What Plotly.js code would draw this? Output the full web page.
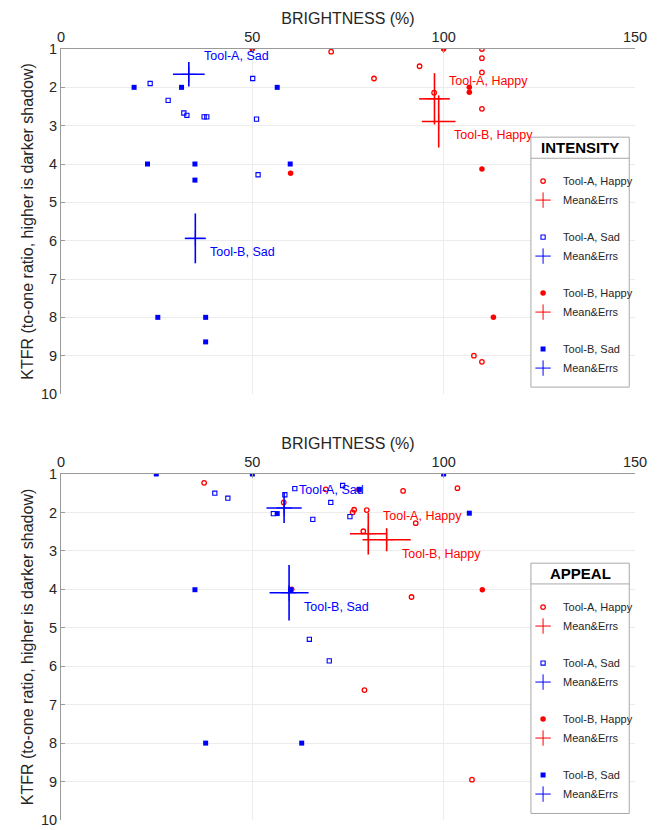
<!DOCTYPE html>
<html><head><meta charset="utf-8">
<script src="https://cdn.plot.ly/plotly-3.0.1.min.js"></script>
<style>html,body{margin:0;padding:0;background:#fff}</style>
</head><body>
<div id="chart" style="width:662px;height:830px"></div>
<script>
// ===== Panel 1: INTENSITY =====
const intAHappyX = [70.6, 110, 110, 93.7, 110, 81.8, 97.5, 110, 107.9, 110];
const intAHappyY = [1.07, 1.0, 1.24, 1.45, 1.61, 1.77, 2.14, 2.56, 9.0, 9.16];
const intASadX = [23.3, 50.1, 28.0, 32.1, 32.9, 37.4, 38.1, 51.1, 51.5];
const intASadY = [1.9, 1.77, 2.34, 2.67, 2.73, 2.77, 2.77, 2.83, 4.28];
const intBHappyX = [50, 100, 106.7, 106.7, 110, 60.0, 113];
const intBHappyY = [1.0, 1.0, 2.0, 2.13, 4.13, 4.24, 8.0];
const intBSadX = [19.1, 31.5, 56.5, 22.6, 35.0, 59.9, 35.0, 25.3, 37.8, 37.8];
const intBSadY = [2.0, 2.0, 2.0, 4.0, 4.0, 4.0, 4.42, 8.0, 8.0, 8.64];
// means & errors, order: A-Happy, A-Sad, B-Happy, B-Sad
const intMeanX = [97.6, 33.4, 98.7, 35.1];
const intMeanY = [2.30, 1.66, 2.89, 5.94];
const intErrX = [4.0, 4.15, 4.4, 2.75];
const intErrY = [0.67, 0.32, 0.68, 0.65];

// ===== Panel 2: APPEAL =====
const appAHappyX = [37.4, 58.2, 69.2, 77.9, 89.4, 103.6, 76.6, 76.2, 79.9, 92.7, 79.0, 91.6, 79.3, 107.4];
const appAHappyY = [1.23, 1.74, 1.4, 1.41, 1.44, 1.37, 1.93, 2.0, 1.94, 2.28, 2.49, 4.2, 6.62, 8.95];
const appASadX = [40.2, 43.6, 58.5, 61.1, 55.5, 73.6, 70.5, 75.5, 65.8, 64.9, 70.1];
const appASadY = [1.5, 1.63, 1.54, 1.38, 2.03, 1.3, 1.74, 2.11, 2.18, 5.3, 5.86];
const appBHappyX = [110.1, 60.3];
const appBHappyY = [4.01, 4.0];
const appBSadX = [24.9, 50, 100, 56.5, 106.7, 35.0, 60.0, 37.8, 62.9, 77.9];
const appBSadY = [1.0, 1.0, 1.0, 2.03, 2.02, 4.01, 4.01, 8.0, 8.0, 1.4];
const appMeanX = [80.3, 58.3, 85.1, 59.6];
const appMeanY = [2.555, 1.885, 2.71, 4.09];
const appErrX = [4.8, 4.6, 6.3, 5.1];
const appErrY = [0.54, 0.39, 0.30, 0.72];

const groupNames = ['Tool-A, Happy', 'Tool-A, Sad', 'Tool-B, Happy', 'Tool-B, Sad'];
const meanName = 'Mean&Errs';
const xTicks = [0, 50, 100, 150];
const yTicks = [1, 2, 3, 4, 5, 6, 7, 8, 9, 10];
const xTitle = 'BRIGHTNESS (%)';
const yTitle = 'KTFR (to-one ratio, higher is darker shadow)';
const legendTitles = ['INTENSITY', 'APPEAL'];

const RED = '#ff0000', BLUE = '#0000ff';
const FONT = 'Liberation Sans, Arial, Helvetica, sans-serif';
const TXT = '#262626';
const colors = [RED, BLUE, RED, BLUE];
const markerStyles = [
  {symbol: 'circle-open', size: 4.5, line: {width: 1.3}},
  {symbol: 'square-open', size: 4.2, line: {width: 1.1}},
  {symbol: 'circle', size: 5.5, line: {width: 0}},
  {symbol: 'square', size: 5, line: {width: 0}}
];

function buildPanel(sets, meanX, meanY, errX, errY, xa, ya, legendId, prefix) {
  const traces = [];
  sets.forEach((s, i) => {
    const ms = markerStyles[i];
    traces.push({
      type: 'scatter', mode: 'markers', x: s[0], y: s[1], xaxis: xa, yaxis: ya,
      name: groupNames[i], legend: legendId, legendgroup: prefix + i,
      marker: {symbol: ms.symbol, size: ms.size, color: colors[i], line: {color: colors[i], width: ms.line.width}},
      hoverinfo: 'x+y'
    });
    traces.push({
      type: 'scatter', mode: 'markers', x: [meanX[i]], y: [meanY[i]], xaxis: xa, yaxis: ya,
      name: meanName, legend: legendId, legendgroup: prefix + i,
      marker: {symbol: 'cross-thin-open', size: 11, color: colors[i], line: {color: colors[i], width: 1}},
      error_x: {type: 'data', array: [errX[i]], visible: true, width: 0, thickness: 1.6, color: colors[i]},
      error_y: {type: 'data', array: [errY[i]], visible: true, width: 0, thickness: 1.6, color: colors[i]}
    });
  });
  return traces;
}

const traces = [].concat(
  buildPanel([[intAHappyX, intAHappyY], [intASadX, intASadY], [intBHappyX, intBHappyY], [intBSadX, intBSadY]],
    intMeanX, intMeanY, intErrX, intErrY, 'x', 'y', 'legend', 'i'),
  buildPanel([[appAHappyX, appAHappyY], [appASadX, appASadY], [appBHappyX, appBHappyY], [appBSadX, appBSadY]],
    appMeanX, appMeanY, appErrX, appErrY, 'x2', 'y2', 'legend2', 'a')
);

function labelAnns(meanX, meanY, xref, yref) {
  const offX = [3.4, 3.4, 3.4, 3.4];
  const offY = [-0.47, -0.47, 0.36, 0.36];
  return meanX.map((mx, i) => ({
    x: mx + offX[i], y: meanY[i] + offY[i], xref: xref, yref: yref,
    text: groupNames[i], showarrow: false, xanchor: 'left', yanchor: 'middle',
    font: {family: FONT, size: 12.5, color: colors[i]}
  }));
}

function xAxis(anchor) {
  return {
    anchor: anchor, side: 'top', range: [0, 150], tickvals: xTicks, ticktext: xTicks.map(String),
    showline: true, linecolor: '#9a9a9a', linewidth: 1, ticks: 'inside', ticklen: 4, tickcolor: '#9a9a9a',
    showgrid: true, gridcolor: '#ececec', gridwidth: 1, zeroline: false,
    tickfont: {family: FONT, size: 14.5, color: TXT},
    title: {text: xTitle, font: {family: FONT, size: 16, color: TXT}, standoff: 0}
  };
}
function yAxis(domain, anchor) {
  return {
    domain: domain, anchor: anchor, range: [10, 1], tickvals: yTicks, ticktext: yTicks.map(String),
    showline: true, linecolor: '#9a9a9a', linewidth: 1, ticks: 'inside', ticklen: 4, tickcolor: '#9a9a9a',
    showgrid: true, gridcolor: '#ececec', gridwidth: 1, zeroline: false,
    tickfont: {family: FONT, size: 14.5, color: TXT},
    title: {text: yTitle, font: {family: FONT, size: 16, color: TXT}, standoff: 3}
  };
}

// legend box geometry (data coordinates of each panel)
const boxX = [122.8, 148.5];
const boxY = [[3.30, 9.82, 3.85], [3.32, 9.83, 3.86]];
function boxShapes(xref, yref, by) {
  return [
    {type: 'rect', xref: xref, yref: yref, x0: boxX[0], x1: boxX[1], y0: by[0], y1: by[1],
     line: {color: '#a8a8a8', width: 1}, fillcolor: '#ffffff', layer: 'above'},
    {type: 'line', xref: xref, yref: yref, x0: boxX[0], x1: boxX[1], y0: by[2], y1: by[2],
     line: {color: '#a8a8a8', width: 1}, layer: 'above'}
  ];
}
function boxTitle(text, xref, yref, by) {
  return {x: (boxX[0] + boxX[1]) / 2, y: (by[0] + by[2]) / 2, xref: xref, yref: yref, text: '<b>' + text + '</b>',
    showarrow: false, xanchor: 'center', yanchor: 'middle', font: {family: FONT, size: 15, color: '#000'}};
}

const legendBase = {
  xref: 'paper', yref: 'paper', xanchor: 'left', yanchor: 'top', x: 0.805,
  bgcolor: 'rgba(0,0,0,0)', borderwidth: 0, tracegroupgap: 18, traceorder: 'grouped',
  font: {family: FONT, size: 11, color: TXT}
};

const layout = {
  width: 662, height: 830, paper_bgcolor: '#fff', plot_bgcolor: '#fff',
  margin: {l: 61, r: 27, t: 49, b: 10, autoexpand: false},
  showlegend: true,
  xaxis: xAxis('y'), yaxis: yAxis([0.5525, 1], 'x'),
  xaxis2: xAxis('y2'), yaxis2: yAxis([0, 0.4488], 'x2'),
  legend: Object.assign({}, legendBase, {y: 0.8475}),
  legend2: Object.assign({}, legendBase, {y: 0.2950}),
  shapes: [].concat(boxShapes('x', 'y', boxY[0]), boxShapes('x2', 'y2', boxY[1])),
  annotations: [].concat(
    labelAnns(intMeanX, intMeanY, 'x', 'y'),
    labelAnns(appMeanX, appMeanY, 'x2', 'y2'),
    [boxTitle(legendTitles[0], 'x', 'y', boxY[0]), boxTitle(legendTitles[1], 'x2', 'y2', boxY[1])]
  ),
  font: {family: FONT, color: TXT}
};

Plotly.newPlot('chart', traces, layout, {displayModeBar: false, staticPlot: true});
</script>
</body></html>
